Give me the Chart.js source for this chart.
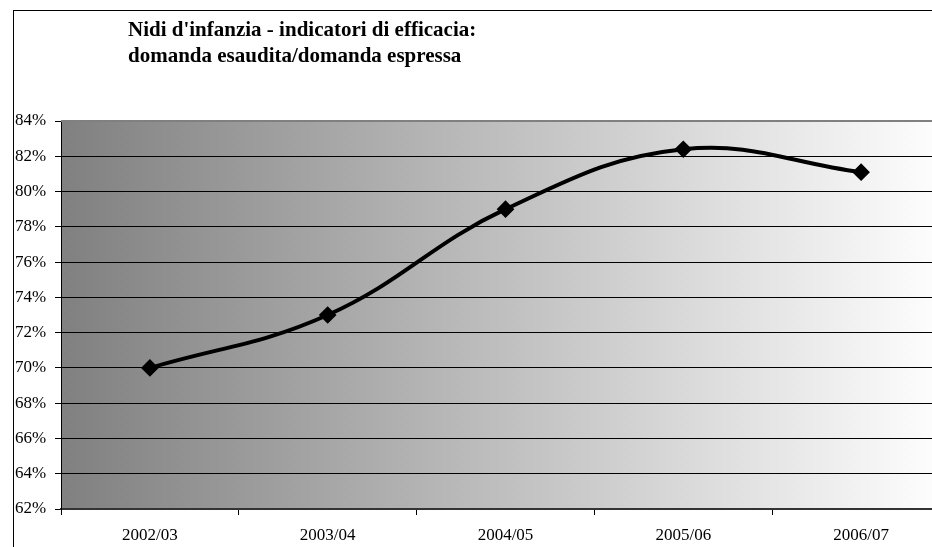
<!DOCTYPE html>
<html>
<head>
<meta charset="utf-8">
<script src="https://cdn.jsdelivr.net/npm/chart.js@4"></script>
<style>
html,body{margin:0;padding:0;background:#fff;overflow:hidden;width:932px;height:547px}
#wrap{position:relative;width:960px;height:547px}
#title{position:absolute;left:128px;top:16px;font:bold 21px "Liberation Serif","Times New Roman",serif;line-height:26px;color:#000;white-space:nowrap}
</style>
</head>
<body>
<div id="wrap">
<canvas id="c" width="960" height="547"></canvas>
<div id="title">Nidi d'infanzia - indicatori di efficacia:<br>domanda esaudita/domanda espressa</div>
</div>
<script>
// data
const years=["2002/03","2003/04","2004/05","2005/06","2006/07"];
const ratio=[70,73,79,82.4,81.1];
const yMin=62, yMax=84, yStep=2;

const serif='"Liberation Serif","Times New Roman",serif';

// gradient plot area + frame
const backdrop={
  id:"backdrop",
  beforeDraw(chart){
    const {ctx,chartArea:a}=chart;
    ctx.save();
    const g=ctx.createLinearGradient(a.left,0,a.right,0);
    g.addColorStop(0,"#808080"); g.addColorStop(1,"#ffffff");
    ctx.fillStyle=g;
    ctx.fillRect(a.left,a.top,a.right-a.left,a.bottom-a.top);
    ctx.strokeStyle="#000"; ctx.lineWidth=1;
    ctx.strokeRect(13.5,10.5,2000,2000);
    ctx.restore();
  },
  beforeDatasetsDraw(chart){
    const {ctx,chartArea:a}=chart;
    ctx.save();
    ctx.strokeStyle="#808080"; ctx.lineWidth=2;
    ctx.beginPath(); ctx.moveTo(a.left,a.top); ctx.lineTo(a.right,a.top); ctx.stroke();
    ctx.restore();
  }
};

new Chart(document.getElementById("c"),{
  type:"line",
  data:{labels:years,datasets:[{
    data:ratio,
    borderColor:"#000",borderWidth:4,tension:0.4,
    pointStyle:"rectRot",pointRadius:6,pointBackgroundColor:"#000",pointBorderColor:"#000",
    clip:false
  }]},
  options:{
    responsive:false,animation:false,
    layout:{padding:{left:15,top:121,right:7,bottom:0}},
    plugins:{legend:{display:false},tooltip:{enabled:false},title:{display:false}},
    scales:{
      x:{
        offset:true,
        afterFit(s){s.height=38;},
        grid:{offset:true,drawOnChartArea:false,drawTicks:true,tickLength:6,tickColor:"#000",color:"#000"},
        border:{color:"#333",width:2},
        ticks:{color:"#000",font:{family:serif,size:17},padding:10,maxRotation:0}
      },
      y:{
        min:yMin,max:yMax,
        afterFit(s){s.width=46;},
        grid:{color:ctx=>ctx.tick&&ctx.tick.value===yMax?"rgba(0,0,0,0)":"#000",lineWidth:1,tickLength:6,tickColor:"#000"},
        border:{color:"#000",width:1},
        ticks:{stepSize:yStep,color:"#000",crossAlign:"far",font:{family:serif,size:17},callback:v=>v+"%"}
      }
    }
  },
  plugins:[backdrop]
});
</script>
</body>
</html>
